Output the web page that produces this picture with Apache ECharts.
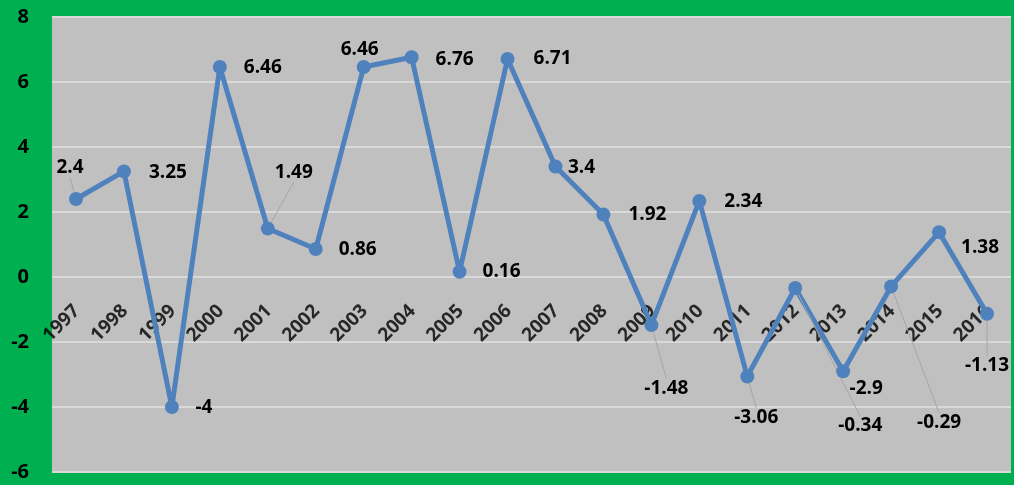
<!DOCTYPE html>
<html><head><meta charset="utf-8">
<script src="https://cdn.jsdelivr.net/npm/echarts@6/dist/echarts.min.js"></script>
<style>html,body{margin:0;padding:0;background:#00b050}#c{width:1014px;height:485px}</style>
</head><body><div id="c"></div>
<script>
const years = ['1997','1998','1999','2000','2001','2002','2003','2004','2005','2006','2007','2008','2009','2010','2011','2012','2013','2014','2015','2016'];
const values = [2.4,3.25,-4,6.46,1.49,0.86,6.46,6.76,0.16,6.71,3.4,1.92,-1.48,2.34,-3.06,-0.34,-2.9,-0.29,1.38,-1.13];
const yTicks = [-6,-4,-2,0,2,4,6,8];
// label offsets (style), dx/dy from the point
const labelDx = [-6,44,32,43,26,42,-4,43,42,45,26,44,15,44,9,65,23,48,41,0];
const labelDy = [-31,1,1,1,-56,1,-17,2,0,0,1,0,63,1,41,138,17,136,15,52];
const leader = [1,0,0,0,1,0,0,0,0,0,0,0,1,0,1,1,0,1,0,1];

const font = 'Open Sans';
const chart = echarts.init(document.getElementById('c'));
chart.setOption({
  backgroundColor: '#00b050',
  animation: false,
  grid: {left: 52, right: 3, top: 17, bottom: 13, show: true, backgroundColor: '#c0c0c0', borderWidth: 0, containLabel: false, outerBoundsMode: 'none'},
  xAxis: {
    type: 'category', data: years, boundaryGap: true,
    axisLine: {show: false}, axisTick: {show: false}, axisLabel: {show: false}
  },
  yAxis: {
    type: 'value', min: yTicks[0], max: yTicks[yTicks.length-1], interval: 2,
    axisLine: {show: false}, axisTick: {show: false},
    axisLabel: {color: '#000', fontWeight: 'bold', fontSize: 20, fontFamily: font, margin: 23},
    splitLine: {lineStyle: {color: '#d9d9d9', width: 2}}
  },
  series: [{
    type: 'scatter', silent: true, z: 1,
    data: years.map(() => 0),
    symbolSize: 0,
    label: {show: true, position: [1, 31], align: 'right', verticalAlign: 'middle', rotate: 45,
      formatter: p => years[p.dataIndex], color: '#000', fontWeight: 'bold', fontSize: 19, fontFamily: font}
  }, {
    type: 'line', z: 3,
    data: values.map((v, i) => ({value: v, labelLine: {show: !!leader[i]}})),
    lineStyle: {color: '#4f81bd', width: 5},
    itemStyle: {color: '#4f81bd'},
    symbol: 'circle', symbolSize: 14,
    label: {show: true, position: 'inside', color: '#000', fontWeight: 'bold', fontSize: 19, fontFamily: font},
    labelLine: {lineStyle: {color: '#a6a6a6', width: 1}},
    labelLayout: function (p) { return {dx: labelDx[p.dataIndex], dy: labelDy[p.dataIndex]}; }
  }]
});
</script></body></html>
